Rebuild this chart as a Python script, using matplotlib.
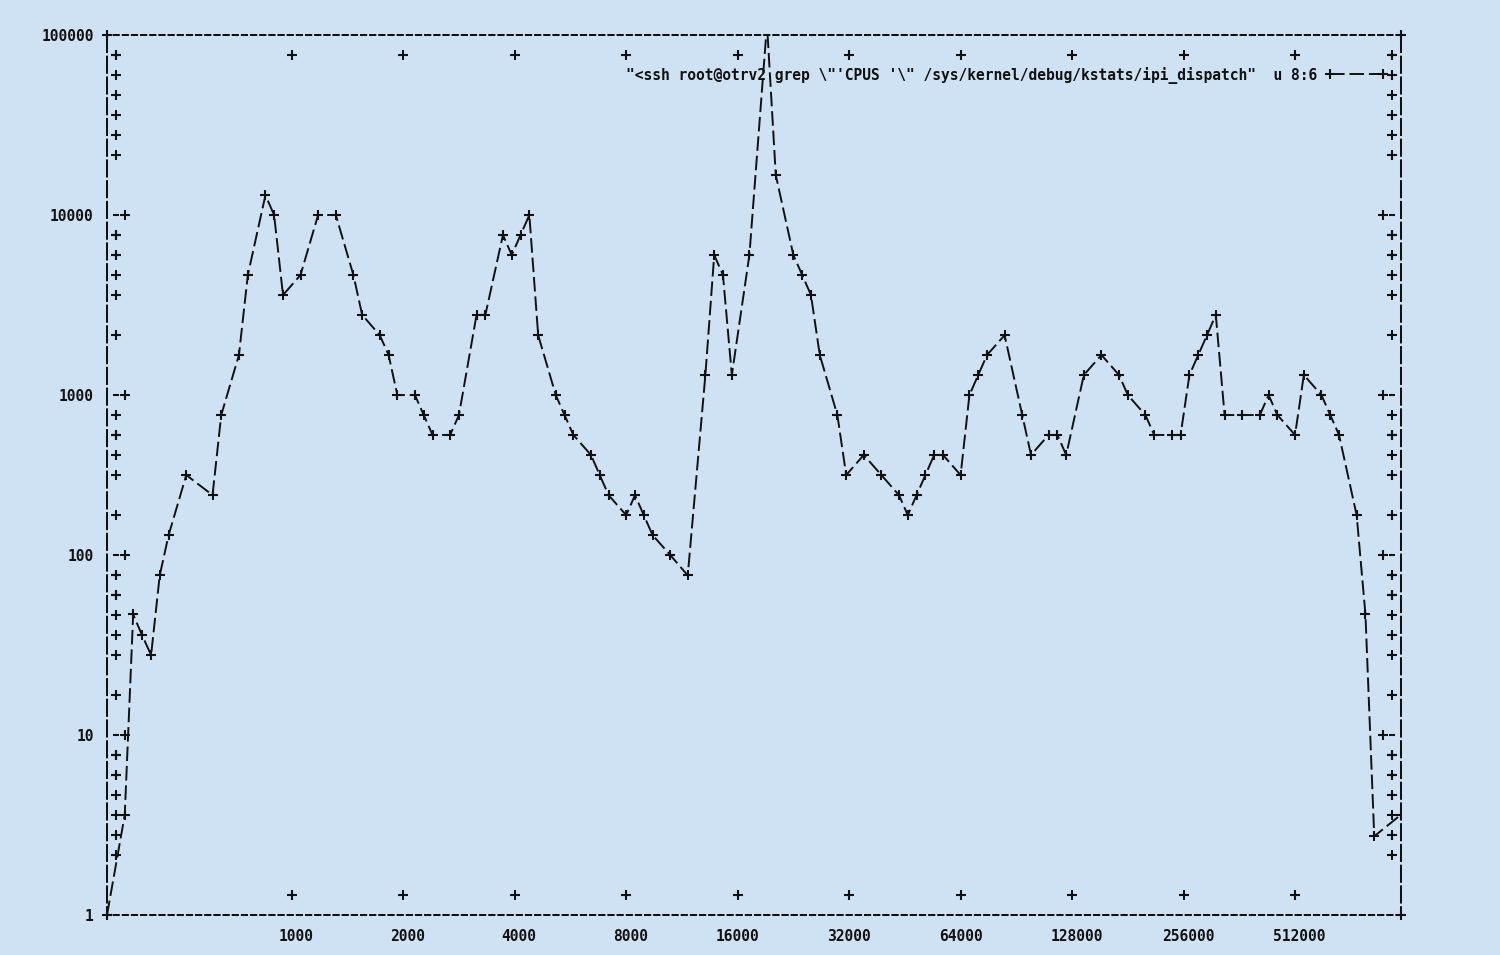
import numpy as np
import matplotlib.pyplot as plt
from matplotlib.legend_handler import HandlerLine2D
from matplotlib.transforms import ScaledTranslation

# gnuplot "dumb" style plot of the kstats ipi_dispatch histogram (u 8:6)
title = ('"<ssh root@otrv2 grep \\"\'CPUS \'\\" '
         '/sys/kernel/debug/kstats/ipi_dispatch"  u 8:6')

x = [317, 354, 373, 394, 417, 440, 465, 519, 611, 645,
     720, 761, 849, 896, 947, 1056, 1178, 1315, 1467, 1549,
     1728, 1826, 1928, 2151, 2272, 2400, 2677, 2828, 3155, 3333,
     3718, 3927, 4148, 4381, 4628, 5163, 5453, 5760, 6426, 6787,
     7169, 8000, 8450, 8925, 9427, 10520, 11730, 13090, 13830, 14600,
     15430, 17210, 19200, 20280, 22620, 23900, 25240, 26660, 29740, 31420,
     35050, 39100, 43630, 46080, 48670, 51410, 54300, 57350, 64000, 67600,
     71400, 75420, 84140, 93870, 99150, 110600, 116800, 123400, 137700, 153600,
     171400, 181000, 201900, 213300, 237900, 251300, 265500, 280400, 296200, 312800,
     330400, 368600, 411300, 434400, 458800, 512000, 540800, 603300, 637300, 673100,
     751000, 793200, 837800, 987000]
y = [1, 3.7, 51, 39, 30, 85, 144, 316, 243, 693,
     1520, 4330, 12300, 9490, 3330, 4330, 9490, 9490, 4330, 2570,
     1970, 1520, 900, 900, 693, 534, 534, 693, 2570, 2570,
     7310, 5620, 7310, 9490, 1970, 900, 693, 534, 411, 316,
     243, 187, 243, 187, 144, 111, 85, 1170, 5620, 4330,
     1170, 5620, 115000, 16000, 5620, 4330, 3330, 1520, 693, 316,
     411, 316, 243, 187, 243, 316, 411, 411, 316, 900,
     1170, 1520, 1970, 693, 411, 534, 534, 411, 1170, 1520,
     1170, 900, 693, 534, 534, 534, 1170, 1520, 1970, 2570,
     693, 693, 693, 900, 693, 534, 1170, 900, 693, 534,
     187, 51, 2.8, 3.7]

xticks = [1000, 2000, 4000, 8000, 16000, 32000, 64000, 128000, 256000, 512000]
xlabels = ['1000', '2000', '4000', '8000', '16000', '32000', '64000',
           '128000', '256000', '512000']
yticks = [1, 10, 100, 1000, 10000, 100000]
ylabels = ['1', '10', '100', '1000', '10000', '100000']

plt.rcParams['font.family'] = 'DejaVu Sans Mono'
plt.rcParams['font.weight'] = 'bold'
plt.rcParams['font.size'] = 10.5

BG = '#cfe2f3'
INK = '#111111'
CW, RH = 8.8, 20.0     # character cell in pixels
NROWS = 44             # text rows between the y borders

fig = plt.figure(figsize=(15, 9.55), dpi=100, facecolor=BG)
ax = fig.add_axes([107 / 1500, 40 / 955, 1293.6 / 1500, 880 / 955])
ax.set_facecolor(BG)
ax.set_xscale('log', base=2)
ax.set_yscale('log')
ax.set_xlim(317, 987000)
ax.set_ylim(1, 100000)


def shift(dx, dy):
    return ScaledTranslation(dx / 100, dy / 100, fig.dpi_scale_trans)


def row_snap(v):
    # terminal output can only put a tic on a whole text row
    r = np.round((5 - np.log10(v)) * NROWS / 5)
    return 10 ** (5 - r * 5 / NROWS), r


line, = ax.plot(x, y, color=INK, lw=1.4, dashes=(7.5, 2.5), marker='+',
                ms=6.5, mew=1.5, label=title, zorder=3)

# no matplotlib ticks, the tics are drawn as characters below
ax.set_xticks([])
ax.set_yticks([])
ax.minorticks_off()

xt = ax.get_xaxis_transform()
yt = ax.get_yaxis_transform()
kw = dict(ls='none', marker='+', ms=6.5, mew=1.5, color=INK, clip_on=False)
dash = dict(ls='none', marker='_', ms=4.5, mew=1.5, color=INK, clip_on=False)

n = len(xticks)
ax.plot(xticks, np.zeros(n), transform=xt + shift(0, RH), **kw)
ax.plot(xticks, np.ones(n), transform=xt + shift(0, -RH), **kw)

ymaj, maj_rows = row_snap(np.array(yticks[1:-1], dtype=float))
m = len(ymaj)
ax.plot(np.zeros(m), ymaj, transform=yt + shift(2 * CW, 0), **kw)
ax.plot(np.zeros(m), ymaj, transform=yt + shift(CW, 0), **dash)
ax.plot(np.ones(m), ymaj, transform=yt + shift(-2 * CW, 0), **kw)
ax.plot(np.ones(m), ymaj, transform=yt + shift(-CW, 0), **dash)

minor = np.array([s * 10.0 ** k for k in range(5) for s in range(2, 10)])
ymin_, rows = row_snap(minor)
keep = (rows > 0) & (rows < NROWS) & ~np.isin(rows, maj_rows)
ymin_ = ymin_[keep]
k = len(ymin_)
ax.plot(np.zeros(k), ymin_, transform=yt + shift(CW, 0), **kw)
ax.plot(np.ones(k), ymin_, transform=yt + shift(-CW, 0), **kw)

ax.plot([0, 1, 0, 1], [0, 0, 1, 1], transform=ax.transAxes, **kw)

for s in ('top', 'bottom'):
    ax.spines[s].set_linewidth(1.45)
    ax.spines[s].set_linestyle((1.3, (2.6, 1.95)))
    ax.spines[s].set_color(INK)
for s in ('left', 'right'):
    ax.spines[s].set_linewidth(1.45)
    ax.spines[s].set_linestyle((4.1, (8.0, 2.3)))
    ax.spines[s].set_color(INK)

for v, lab in zip(xticks, xlabels):
    dx = CW / 2 if len(lab) % 2 == 0 else 0
    ax.text(v, 0, lab, transform=xt + shift(dx, -26), ha='center',
            va='baseline', color=INK)

ylab_pos, _ = row_snap(np.array(yticks, dtype=float))
for v, lab in zip(ylab_pos, ylabels):
    ax.text(0, v, lab, transform=yt + shift(-13.2, -6), ha='right',
            va='baseline', color=INK)

ax.legend(loc='center right', bbox_to_anchor=(0.9864, 0.9545), frameon=False,
          markerfirst=False, handlelength=3.62, handletextpad=0.9,
          borderpad=0, borderaxespad=0, labelcolor=INK,
          handler_map={line: HandlerLine2D(marker_pad=0, numpoints=2)})

fig.savefig('out.png', dpi=100, facecolor=BG)
